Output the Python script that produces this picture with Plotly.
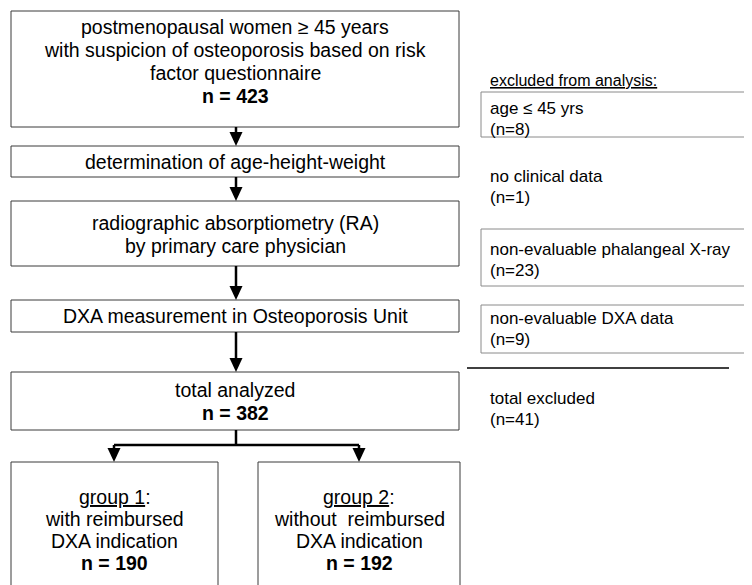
import plotly.graph_objects as go

# ---- data (texts and counts) ----
main_steps = [
    ["postmenopausal women \u2265 45 years", "with suspicion of osteoporosis based on risk", "factor questionnaire"],
    ["determination of age-height-weight"],
    ["radiographic absorptiometry (RA)", "by primary care physician"],
    ["DXA measurement in Osteoporosis Unit"],
    ["total analyzed"],
]
main_n = [423, None, None, None, 382]
group_labels = ["group 1", "group 2"]
group_desc = [["with reimbursed", "DXA indication"], ["without  reimbursed", "DXA indication"]]
group_n = [190, 192]
excl_header = "excluded from analysis:"
excl_labels = ["age \u2264 45 yrs", "no clinical data", "non-evaluable phalangeal X-ray", "non-evaluable DXA data"]
excl_n = [8, 1, 23, 9]
excl_boxed = [True, False, True, True]
total_excl_label = "total excluded"
total_excl_n = 41

W, H = 752, 585
OFF = 8  # page body margin
FONT = "Liberation Sans, Arial, Helvetica, sans-serif"
BIG = 19.5
SMALL = 17
LS = 23  # line spacing

# layout geometry (page pixels)
main_boxes = [(11, 11, 459, 127), (11, 146, 459, 177), (11, 201, 459, 266), (11, 300, 459, 332), (11, 372, 459, 430)]
main_first_line = [27, 162, 223, 316, 390]
group_boxes = [(11, 462, 218, 600), (258, 462, 460, 600)]
group_first_line = 497
excl_boxes = [(481, 92, 780, 137), None, (481, 229, 780, 286), (481, 305, 780, 353)]
excl_first_line = [108, 176, 249, 318]
cx = 236

shapes = []
annotations = []

def rect(x0, y0, x1, y1, color="#3a3a3a", w=1):
    shapes.append(dict(type="rect", xref="x", yref="y", x0=x0, y0=y0, x1=x1, y1=y1,
                       line=dict(color=color, width=w), fillcolor="rgba(0,0,0,0)"))

def line(x0, y0, x1, y1, color="black", w=2.5):
    shapes.append(dict(type="line", xref="x", yref="y", x0=x0, y0=y0, x1=x1, y1=y1,
                       line=dict(color=color, width=w)))

def arrow_head(x, ytip, hw=6.5, h=14):
    shapes.append(dict(type="path", xref="x", yref="y",
                       path=f"M {x-hw},{ytip-h} L {x+hw},{ytip-h} L {x},{ytip} Z",
                       fillcolor="black", line=dict(color="black", width=0)))

def text(x, y, s, size, xanchor="center"):
    annotations.append(dict(x=x, y=y, xref="x", yref="y", text=s, showarrow=False,
                            xanchor=xanchor, yanchor="middle", align="left" if xanchor == "left" else "center",
                            font=dict(family=FONT, size=size, color="black")))

def lines(x, y0, items, size, xanchor="center", ls=LS):
    for k, s in enumerate(items):
        text(x, y0 + k * ls, s, size, xanchor)

for i, (b, s) in enumerate(zip(main_boxes, main_steps)):
    rect(*b)
    items = list(s) + ([] if main_n[i] is None else [f"<b>n = {main_n[i]}</b>"])
    lines((b[0] + b[2]) / 2, main_first_line[i], items, BIG)

# vertical arrows between main boxes
for i in range(len(main_boxes) - 1):
    y0 = main_boxes[i][3]
    y1 = main_boxes[i + 1][1]
    line(cx, y0, cx, y1 - 12)
    arrow_head(cx, y1)

# branch to groups
ybr = 445
gx = [114, 359]
line(cx, main_boxes[-1][3], cx, ybr)
line(gx[0], ybr, gx[1], ybr)
for i, b in enumerate(group_boxes):
    line(gx[i], ybr, gx[i], b[1] - 12)
    arrow_head(gx[i], b[1])
    rect(*b)
    items = [f"<u>{group_labels[i]}</u>:"] + group_desc[i] + [f"<b>n = {group_n[i]}</b>"]
    lines((b[0] + b[2]) / 2, group_first_line, items, BIG, ls=22)

# exclusions
text(488, 80, f"<u>{excl_header}</u>", SMALL - 1, xanchor="left")
for i, lab in enumerate(excl_labels):
    if excl_boxed[i]:
        rect(*excl_boxes[i], color="#8a8a8a", w=1)
    lines(488, excl_first_line[i], [lab, f"(n={excl_n[i]})"], SMALL, xanchor="left", ls=21)

line(467, 368, 729, 368, w=1.3)
lines(488, 398, [total_excl_label, f"(n={total_excl_n})"], SMALL, xanchor="left", ls=21)

fig = go.Figure()
fig.update_layout(
    width=W - OFF, height=H - OFF,
    margin=dict(l=0, r=0, t=0, b=0),
    paper_bgcolor="white", plot_bgcolor="white",
    xaxis=dict(range=[OFF, W], visible=False, fixedrange=True),
    yaxis=dict(range=[H, OFF], visible=False, fixedrange=True),
    shapes=shapes, annotations=annotations, showlegend=False,
)
fig.write_html("out.html")
